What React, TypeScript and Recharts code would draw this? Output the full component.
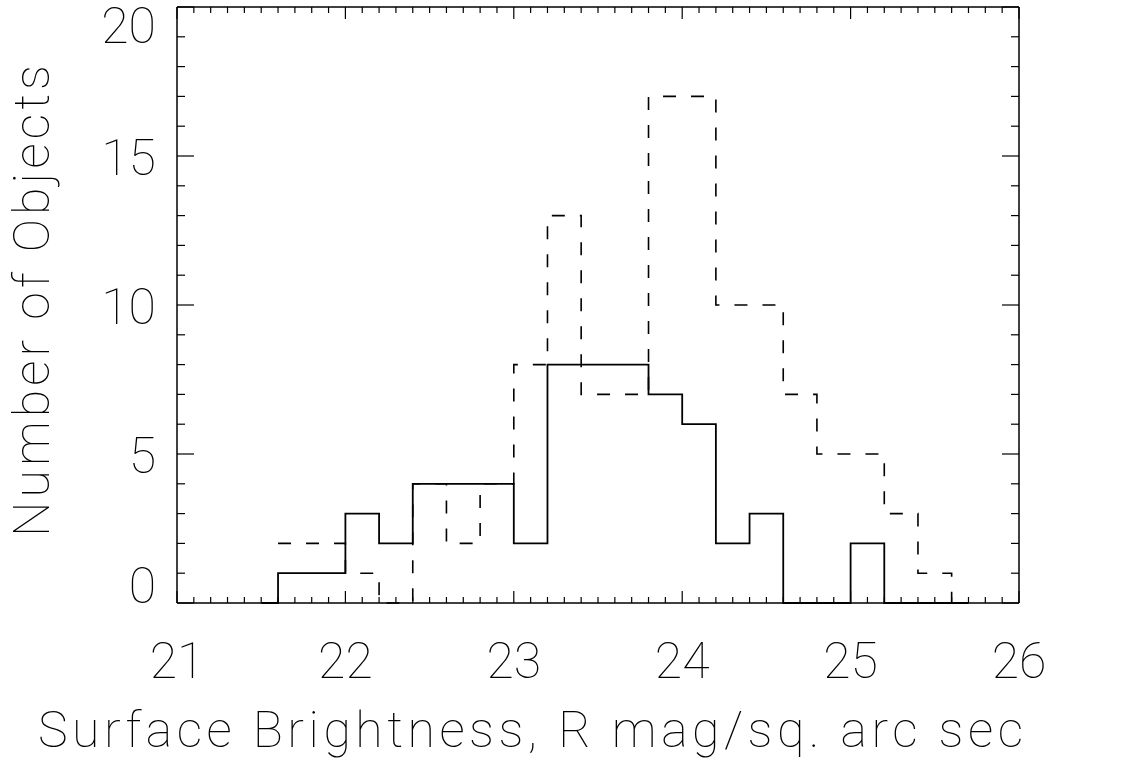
import React from "react";
import { LineChart, Line, XAxis, YAxis } from "recharts";

// left edges of the 0.2 mag bins
const binEdges = [
  21.6, 21.8, 22.0, 22.2, 22.4, 22.6, 22.8, 23.0, 23.2, 23.4, 23.6,
  23.8, 24.0, 24.2, 24.4, 24.6, 24.8, 25.0, 25.2, 25.4, 25.6,
];
// solid histogram
const solidCounts = [1, 1, 3, 2, 4, 4, 4, 2, 8, 8, 8, 7, 6, 2, 3, 0, 0, 2, 0, 0, 0];
// dashed histogram
const dashedCounts = [2, 2, 1, 0, 4, 2, 4, 8, 13, 7, 7, 17, 17, 10, 10, 7, 5, 5, 3, 1, 0];

const solidStart = 21.5;
const solidEnd = 25.7;
const dashedEnd = 25.7;

const xMajor = [21, 22, 23, 24, 25, 26];
const yMajor = [0, 5, 10, 15, 20];

const FONT = "Roboto, 'Open Sans', sans-serif";

const xTicks = Array.from({ length: 51 }, (_, i) => Math.round((21 + i * 0.1) * 10) / 10);
const yTicks = Array.from({ length: 21 }, (_, i) => i);

const solidData = [
  { x: solidStart, y: 0 },
  ...binEdges.map((x, i) => ({ x, y: solidCounts[i] })),
  { x: solidEnd, y: 0 },
];
const dashedData = [
  ...binEdges.map((x, i) => ({ x, y: dashedCounts[i] })),
  { x: dashedEnd, y: 0 },
];

const isMajorX = (v: number) => xMajor.some((m) => Math.abs(m - v) < 1e-6);
const isMajorY = (v: number) => yMajor.includes(v);

function BottomTick({ x, y, payload }: any) {
  const major = isMajorX(payload.value);
  return (
    <g>
      <line x1={x} x2={x} y1={y} y2={y - (major ? 12 : 6)} stroke="#000" strokeWidth={1.2} />
      {major && (
        <text x={x} y={y + 75} textAnchor="middle" fontFamily={FONT} fontWeight={100} fontSize={50} fill="#000">
          {Math.round(payload.value)}
        </text>
      )}
    </g>
  );
}

function TopTick({ x, y, payload }: any) {
  const major = isMajorX(payload.value);
  return <line x1={x} x2={x} y1={y} y2={y + (major ? 12 : 6)} stroke="#000" strokeWidth={1.2} />;
}

function LeftTick({ x, y, payload }: any) {
  const v = payload.value;
  const major = isMajorY(v);
  let shift = 19;
  if (v === 20) shift = 36;
  if (v === 0) shift = 0;
  return (
    <g>
      <line x1={x} x2={x + (major ? 17 : 8)} y1={y} y2={y} stroke="#000" strokeWidth={1.2} />
      {major && (
        <text x={x - 21} y={y + shift} textAnchor="end" fontFamily={FONT} fontWeight={100} fontSize={50} fill="#000">
          {v}
        </text>
      )}
    </g>
  );
}

function RightTick({ x, y, payload }: any) {
  const major = isMajorY(payload.value);
  return <line x1={x} x2={x - (major ? 17 : 8)} y1={y} y2={y} stroke="#000" strokeWidth={1.2} />;
}

function XTitle() {
  return (
    <text
      x={38}
      y={747}
      fontFamily={FONT}
      fontWeight={100}
      fontSize={50}
      fill="#000"
      textLength={985}
      lengthAdjust="spacing"
    >
      Surface Brightness, R mag/sq. arc sec
    </text>
  );
}

function YTitle() {
  return (
    <text
      x={49}
      y={301}
      transform="rotate(-90, 49, 301)"
      textAnchor="middle"
      fontFamily={FONT}
      fontWeight={100}
      fontSize={50}
      fill="#000"
      textLength={472}
      lengthAdjust="spacing"
    >
      Number of Objects
    </text>
  );
}

export default function App() {
  return (
    <div style={{ position: "absolute", left: 0, top: 0, background: "#fff" }}>
      <LineChart width={1129} height={759} margin={{ top: 6, right: 109, left: 0, bottom: 0 }}>
        <XAxis
          type="number"
          dataKey="x"
          domain={[21, 26]}
          ticks={xTicks}
          interval={0}
          tickSize={0}
          tickMargin={0}
          height={156}
          tick={<BottomTick />}
          axisLine={{ stroke: "#000", strokeWidth: 1.5 }}
          label={<XTitle />}
        />
        <XAxis
          xAxisId="top"
          orientation="top"
          type="number"
          dataKey="x"
          domain={[21, 26]}
          ticks={xTicks}
          interval={0}
          tickSize={0}
          tickMargin={0}
          height={1}
          tick={<TopTick />}
          axisLine={{ stroke: "#000", strokeWidth: 1.5 }}
        />
        <YAxis
          type="number"
          domain={[0, 20]}
          ticks={yTicks}
          interval={0}
          tickSize={0}
          tickMargin={0}
          width={177}
          tick={<LeftTick />}
          axisLine={{ stroke: "#000", strokeWidth: 1.5 }}
          label={<YTitle />}
        />
        <YAxis
          yAxisId="right"
          orientation="right"
          type="number"
          domain={[0, 20]}
          ticks={yTicks}
          interval={0}
          tickSize={0}
          tickMargin={0}
          width={1}
          tick={<RightTick />}
          axisLine={{ stroke: "#000", strokeWidth: 1.5 }}
        />
        {/* invisible series so the top and right frame axes get drawn */}
        <Line
          xAxisId="top"
          yAxisId="right"
          data={solidData}
          dataKey="y"
          type="stepAfter"
          stroke="none"
          dot={false}
          activeDot={false}
          legendType="none"
          isAnimationActive={false}
        />
        <Line
          data={dashedData}
          dataKey="y"
          type="stepAfter"
          stroke="#000"
          strokeWidth={1.6}
          strokeDasharray="13 15"
          dot={false}
          activeDot={false}
          isAnimationActive={false}
        />
        <Line
          data={solidData}
          dataKey="y"
          type="stepAfter"
          stroke="#000"
          strokeWidth={1.8}
          dot={false}
          activeDot={false}
          isAnimationActive={false}
        />
      </LineChart>
    </div>
  );
}
